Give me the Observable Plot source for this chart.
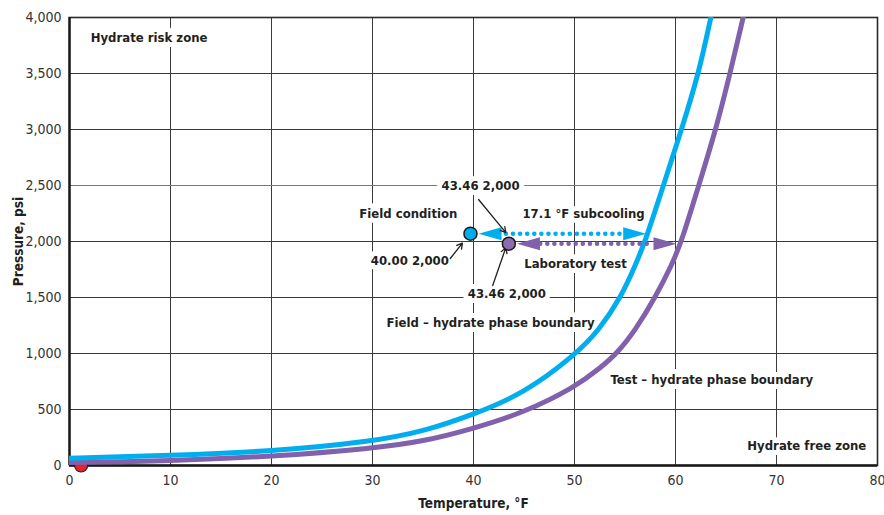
<!DOCTYPE html>
<html><head><meta charset="utf-8">
<script src="https://cdn.jsdelivr.net/npm/d3@7"></script>
<script src="https://cdn.jsdelivr.net/npm/@observablehq/plot@0.6"></script>
<style>
body{margin:0;background:#fff;}
#chart svg{display:block;}
</style></head><body><div id="chart"></div>
<script>
const FONT = '"DejaVu Sans Condensed","Liberation Sans",sans-serif';
const INK = "#231f20";
const BLUE = "#00aeef";
const PURPLE = "#8161ab";

// Field – hydrate phase boundary
const fieldTemp = [0, 10, 20, 30, 35, 40, 45, 50, 52.4, 54.6, 56.1, 57.0, 58.8, 60.6, 62.3, 63.5];
const fieldP    = [65, 89, 125, 214, 303, 455, 643, 982, 1205, 1500, 1804, 2000, 2500, 3000, 3500, 4000];
// Test – hydrate phase boundary
const testTemp = [0, 10, 20, 30, 35, 40, 45, 50, 52.6, 54.2, 56.0, 58.0, 59.7, 60.6, 62.3, 64.0, 65.4, 66.7];
const testP    = [27, 40, 80, 152, 214, 330, 473, 696, 875, 1000, 1205, 1500, 1804, 2000, 2500, 3000, 3500, 4000];

const xTicks = [0, 10, 20, 30, 40, 50, 60, 70, 80];
const yTicks = [0, 500, 1000, 1500, 2000, 2500, 3000, 3500, 4000];

// points
const fieldPoint = [{t: 39.7, p: 2070}];
const testPoint = [{t: 43.5, p: 1980}];
const originPoint = [{t: 1.15, p: 0}];

// subcooling arrows (dotted shafts + heads)
const blueShaft = [{t1: 43.2, t2: 55.0, p: 2070}];
const purpleShaft = [{t1: 46.6, t2: 57.8, p: 1980}];
const blueHeads = [{t: 40.5, p: 2070, dir: 180}, {t: 57.1, p: 2070, dir: 0}];
const purpleHeads = [{t: 44.3, p: 1980, dir: 180}, {t: 60.1, p: 1980, dir: 0}];

// labels
const startLabels = [
  {t: 2.1, p: 3820, text: "Hydrate risk zone"}
];
const endLabels = [
  {t: 38.4, p: 2250, text: "Field condition"}
];
const midLabels = [
  {t: 40.7, p: 2500, text: "43.46 2,000"},
  {t: 50.9, p: 2250, text: "17.1 °F subcooling"},
  {t: 33.7, p: 1830, text: "40.00 2,000"},
  {t: 50.1, p: 1805, text: "Laboratory test"},
  {t: 43.3, p: 1536, text: "43.46 2,000"},
  {t: 41.7, p: 1277, text: "Field – hydrate phase boundary"},
  {t: 63.6, p: 768, text: "Test – hydrate phase boundary"},
  {t: 73.0, p: 179, text: "Hydrate free zone"}
];

// pointer arrows
const pointers = [
  {t1: 40.5, p1: 2375, t2: 43.2, p2: 2080},
  {t1: 37.7, p1: 1848, t2: 38.9, p2: 1985},
  {t1: 41.9, p1: 1607, t2: 43.2, p2: 1945}
];

const fieldData = fieldTemp.map((t, i) => ({t, p: fieldP[i]}));
const testData = testTemp.map((t, i) => ({t, p: testP[i]}));

const arrowHead = {
  draw(ctx) {
    ctx.moveTo(0, 0);
    ctx.lineTo(-23, -6.5);
    ctx.lineTo(-23, 6.5);
    ctx.closePath();
  }
};

const labelStyle = {x: "t", y: "p", text: "text", fontWeight: "bold", fontSize: 13, fill: INK, stroke: "white", strokeWidth: 10, style: {letterSpacing: "-0.4px"}};

const chart = Plot.plot({
  width: 884,
  height: 515,
  marginLeft: 69,
  marginRight: 7,
  marginTop: 17,
  marginBottom: 50,
  style: {fontFamily: FONT, fontSize: "14px", color: INK, background: "#fff", overflow: "visible"},
  x: {domain: [0, 80]},
  y: {domain: [0, 4000]},
  marks: [
    Plot.gridX(xTicks, {stroke: "#3a3a3a", strokeOpacity: 1, strokeWidth: 1}),
    Plot.gridY(yTicks.filter(d => d !== 2500), {stroke: "#3a3a3a", strokeOpacity: 1, strokeWidth: 1}),
    Plot.ruleY([2500], {stroke: "#3f82c6", strokeWidth: 1}),
    Plot.axisX(xTicks, {tickSize: 0, tickPadding: 10, label: null, fontSize: 14, fill: "#333"}),
    Plot.axisY(yTicks, {tickSize: 0, tickPadding: 8, label: null, tickFormat: d3.format(","), fontSize: 14, fill: "#333"}),
    Plot.text(["Temperature, °F"], {frameAnchor: "bottom", textAnchor: "middle", lineAnchor: "middle", dy: 38, fontWeight: "bold", fontSize: 13.5, fill: INK, style: {letterSpacing: "-0.4px"}}),
    Plot.text(["Pressure, psi"], {frameAnchor: "left", textAnchor: "middle", lineAnchor: "middle", dx: -51, rotate: -90, fontWeight: "bold", fontSize: 13.5, fill: INK, style: {letterSpacing: "-0.4px"}}),
    Plot.text(startLabels, {...labelStyle, textAnchor: "start"}),
    Plot.text(endLabels, {...labelStyle, textAnchor: "end"}),
    Plot.text(midLabels, {...labelStyle, textAnchor: "middle"}),
    Plot.frame({stroke: "#2a2a2a", strokeWidth: 1.6}),
    Plot.ruleX([0], {stroke: "#1a1a1a", strokeWidth: 2.4}),
    Plot.ruleY([0], {stroke: "#1a1a1a", strokeWidth: 2.4}),
    Plot.dot(originPoint, {x: "t", y: "p", r: 6.5, fill: "#e3262b", stroke: "#222", strokeWidth: 1.2}),
    Plot.line(testData, {x: "t", y: "p", stroke: PURPLE, strokeWidth: 5, curve: "basis", clip: true}),
    Plot.line(fieldData, {x: "t", y: "p", stroke: BLUE, strokeWidth: 5, curve: "basis", clip: true}),
    Plot.link(blueShaft, {x1: "t1", x2: "t2", y1: "p", y2: "p", stroke: BLUE, strokeWidth: 4.5, strokeDasharray: "0.1 7", strokeLinecap: "round"}),
    Plot.link(purpleShaft, {x1: "t1", x2: "t2", y1: "p", y2: "p", stroke: PURPLE, strokeWidth: 4.5, strokeDasharray: "0.1 7", strokeLinecap: "round"}),
    Plot.dot(blueHeads, {x: "t", y: "p", symbol: arrowHead, rotate: "dir", fill: BLUE, stroke: "none"}),
    Plot.dot(purpleHeads, {x: "t", y: "p", symbol: arrowHead, rotate: "dir", fill: PURPLE, stroke: "none"}),
    Plot.arrow(pointers, {x1: "t1", y1: "p1", x2: "t2", y2: "p2", stroke: INK, strokeWidth: 1.3, headLength: 7}),
    Plot.dot(fieldPoint, {x: "t", y: "p", r: 6.5, fill: BLUE, stroke: "#1a1a1a", strokeWidth: 1.5}),
    Plot.dot(testPoint, {x: "t", y: "p", r: 6.5, fill: "#8c6bb1", stroke: "#1a1a1a", strokeWidth: 1.5})
  ]
});
document.getElementById("chart").append(chart);
</script>
</body></html>
